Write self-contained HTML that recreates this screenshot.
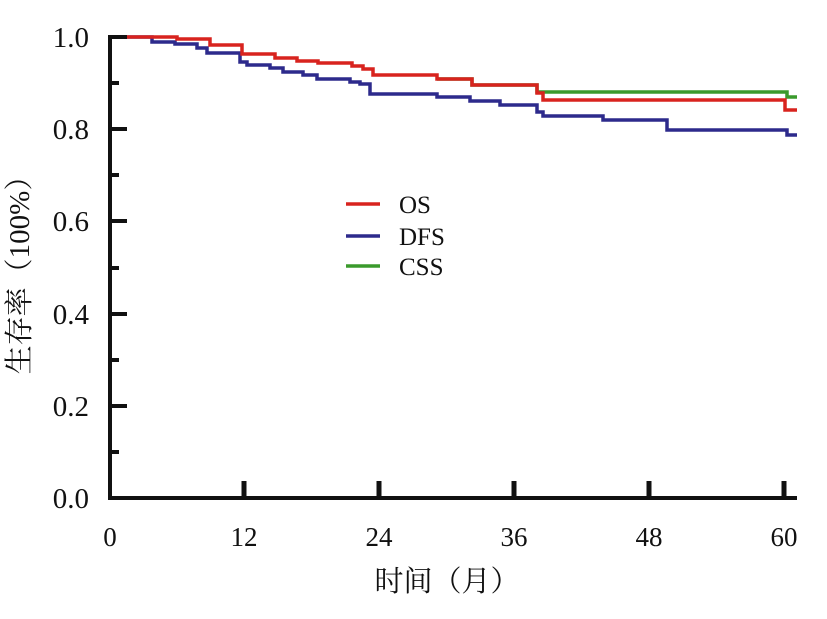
<!DOCTYPE html>
<html><head><meta charset="utf-8"><style>body{margin:0;background:#fff}</style></head><body>
<svg width="827" height="614" xmlns="http://www.w3.org/2000/svg" font-family="'Liberation Serif','Noto Serif CJK SC',serif">
<rect width="827" height="614" fill="#fff"/>
<g fill="none" stroke-width="3.5">
<path stroke="#3a9a2c" d="M437,79H472V85H537V92H787V97H797"/>
<path stroke="#2d2a8c" d="M110,37H152V42H175V44H197V48H207V53H240V62H247V65H270V68H283V72H303V75H317V79H350V82H360V84H370V94H437V97H470V101H500V105H537V112H543V116H603V120H667V130H787V135H797"/>
<path stroke="#d8231e" d="M110,37H177V39H210V45H242V54H275V58H297V61H318V63H352V66H363V69H373V75H437V79H472V85H537V93H543V100H785V110H797"/>
</g>
<g stroke="#111" stroke-width="4" fill="none">
<path d="M110,35V500M108,498H797"/>
<path d="M110,37H127M110,129H127M110,221H127M110,314H127M110,406H127M110,83H119M110,175H119M110,268H119M110,360H119M110,452H119"/>
<path stroke-width="5" d="M244,481V498M379,481V498M514,481V498M649,481V498M784,481V498"/>
</g>
<g font-size="29" fill="#111" text-anchor="end">
<text x="89" y="47">1.0</text><text x="89" y="139">0.8</text><text x="89" y="231">0.6</text>
<text x="89" y="324">0.4</text><text x="89" y="416">0.2</text><text x="89" y="508">0.0</text>
</g>
<g font-size="27" fill="#111" text-anchor="middle">
<text x="110" y="546">0</text><text x="244" y="546">12</text><text x="379" y="546">24</text>
<text x="514" y="546">36</text><text x="649" y="546">48</text><text x="784" y="546">60</text>
</g>
<g font-size="29" fill="#111" text-anchor="middle">
<text x="447" y="591">时间（月）</text>
<text transform="translate(29,268) rotate(-90)">生存率（100%）</text>
</g>
<g stroke-width="3.5">
<line x1="346" y1="204" x2="380" y2="204" stroke="#d8231e"/>
<line x1="346" y1="236" x2="380" y2="236" stroke="#2d2a8c"/>
<line x1="346" y1="266" x2="380" y2="266" stroke="#3a9a2c"/>
</g>
<g font-size="25" fill="#111">
<text x="399" y="213">OS</text><text x="399" y="245">DFS</text><text x="399" y="275">CSS</text>
</g>
</svg>
</body></html>
